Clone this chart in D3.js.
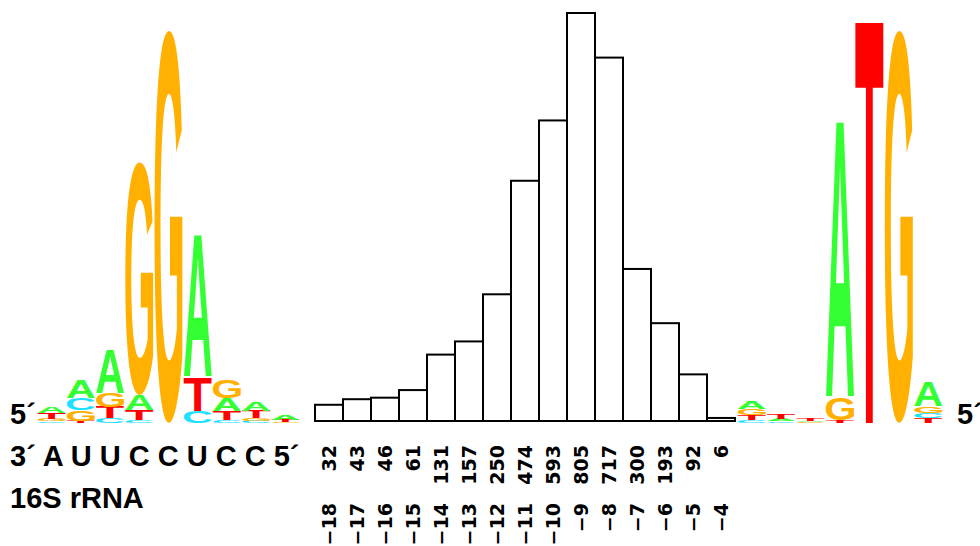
<!DOCTYPE html>
<html lang="en">
<head>
<meta charset="utf-8" />
<script src="https://cdnjs.cloudflare.com/ajax/libs/d3/7.8.5/d3.min.js"></script>
<style>
  body { margin: 0; background: #fff; }
  svg { display: block; }
</style>
</head>
<body>
<div id="chart"></div>
<script>
const width = 980;
const height = 546;

// histogram: position of the SD site relative to the start codon
const offsets = [-18, -17, -16, -15, -14, -13, -12, -11, -10, -9, -8, -7, -6, -5, -4];
const counts = [32, 43, 46, 61, 131, 157, 250, 474, 593, 805, 717, 300, 193, 92, 6];

// left logo (SD region), letter heights in bits per column
const leftA = [0.032, 0.09, 0.22, 0.075, 0, 0.71, 0.065, 0.045, 0.025];
const leftC = [0.008, 0.06, 0.025, 0.015, 0, 0.06, 0.015, 0.012, 0];
const leftG = [0.01, 0.055, 0.07, 1.165, 1.965, 0, 0.09, 0.015, 0.005];
const leftT = [0.03, 0.01, 0.055, 0.05, 0, 0.17, 0.045, 0.035, 0.01];

// right logo (start codon region)
const rightA = [0.035, 0.012, 0.005, 1.38, 0, 0, 0.12];
const rightC = [0.015, 0.008, 0, 0, 0, 0, 0.027];
const rightG = [0.03, 0, 0.003, 0.11, 0, 1.965, 0.03];
const rightT = [0.025, 0.025, 0.01, 0.015, 2.02, 0, 0.025];

const bases = ['A', 'C', 'G', 'T'];
const colours = { A: '#33ff33', C: '#1fe0ff', G: '#ffb000', T: '#ff0000' };

const svg = d3.select('#chart')
  .append('svg')
  .attr('width', width)
  .attr('height', height);

// ink bounds of each glyph, so letters can be stretched to fill their slot
const ctx = document.createElement('canvas').getContext('2d');
ctx.font = 'bold 200px "Liberation Sans"';
const ink = {};
bases.forEach(b => {
  const m = ctx.measureText(b);
  ink[b] = { l: m.actualBoundingBoxLeft, r: m.actualBoundingBoxRight,
             a: m.actualBoundingBoxAscent, d: m.actualBoundingBoxDescent };
});

function stacks(A, C, G, T) {
  return A.map((_, i) => {
    const s = [{ k: 'A', v: A[i] }, { k: 'C', v: C[i] }, { k: 'G', v: G[i] }, { k: 'T', v: T[i] }]
      .filter(d => d.v > 0)
      .sort((a, b) => a.v - b.v);
    let y0 = 0;
    s.forEach(d => { d.i = i; d.y0 = y0; y0 += d.v; d.y1 = y0; });
    return s;
  });
}

const yLogo = d3.scaleLinear().domain([0, 2]).range([423, 23]);

function drawLogo(cols, x) {
  const g = svg.append('g');
  const pad = 0.6;
  g.selectAll('g.col')
    .data(cols)
    .join('g')
    .attr('class', 'col')
    .selectAll('text')
    .data(d => d)
    .join('text')
    .text(d => d.k)
    .attr('font-family', '"Liberation Sans", Arial, sans-serif')
    .attr('font-weight', 'bold')
    .attr('font-size', 200)
    .attr('fill', d => colours[d.k])
    .attr('transform', d => {
      const m = ink[d.k];
      const x0 = x(d.i) + pad;
      const w = x.bandwidth() - 2 * pad;
      const yb = yLogo(d.y0);
      const h = yb - yLogo(d.y1);
      const sx = w / (m.l + m.r);
      const sy = h / (m.a + m.d);
      return `translate(${x0 + m.l * sx},${yb - m.d * sy}) scale(${sx},${sy})`;
    });
}

const xLeft = d3.scaleBand().domain(d3.range(leftA.length)).range([37, 300]);
const xRight = d3.scaleBand().domain(d3.range(rightA.length)).range([737, 943]);
drawLogo(stacks(leftA, leftC, leftG, leftT), xLeft);
drawLogo(stacks(rightA, rightC, rightG, rightT), xRight);

// histogram
const xh = d3.scaleBand().domain(offsets).range([315, 735]);
const yh = d3.scaleLinear().domain([0, 805]).range([421, 13]);

svg.append('g')
  .selectAll('rect')
  .data(counts)
  .join('rect')
  .attr('x', (d, i) => xh(offsets[i]))
  .attr('y', d => yh(d))
  .attr('width', xh.bandwidth())
  .attr('height', d => yh(0) - yh(d))
  .attr('fill', '#fff')
  .attr('stroke', '#000')
  .attr('stroke-width', 2);

function labelAxis(y, fmt) {
  const ax = svg.append('g')
    .attr('transform', `translate(0,${y})`)
    .call(d3.axisBottom(xh).tickSize(0).tickFormat(fmt));
  ax.select('.domain').remove();
  ax.selectAll('text')
    .attr('font-family', '"DejaVu Sans", sans-serif')
    .attr('font-weight', 'bold')
    .attr('font-size', 19)
    .attr('fill', '#000')
    .attr('transform', 'rotate(-90)')
    .attr('text-anchor', 'end')
    .attr('x', 0)
    .attr('y', 0)
    .attr('dy', '0.36em');
}
labelAxis(445, (d, i) => counts[i]);
labelAxis(503, d => '\u2212' + Math.abs(d));

// text labels
const label = (x, y, s) => svg.append('text')
  .attr('x', x).attr('y', y)
  .attr('font-family', '"Liberation Sans", Arial, sans-serif')
  .attr('font-weight', 'bold')
  .attr('font-size', 29)
  .text(s);

label(10, 424, '5\u00b4');
label(957, 424, '5\u00b4');
label(10, 466, '3\u00b4 A U U C C U C C 5\u00b4');
label(10, 508, '16S rRNA');
</script>
</body>
</html>
